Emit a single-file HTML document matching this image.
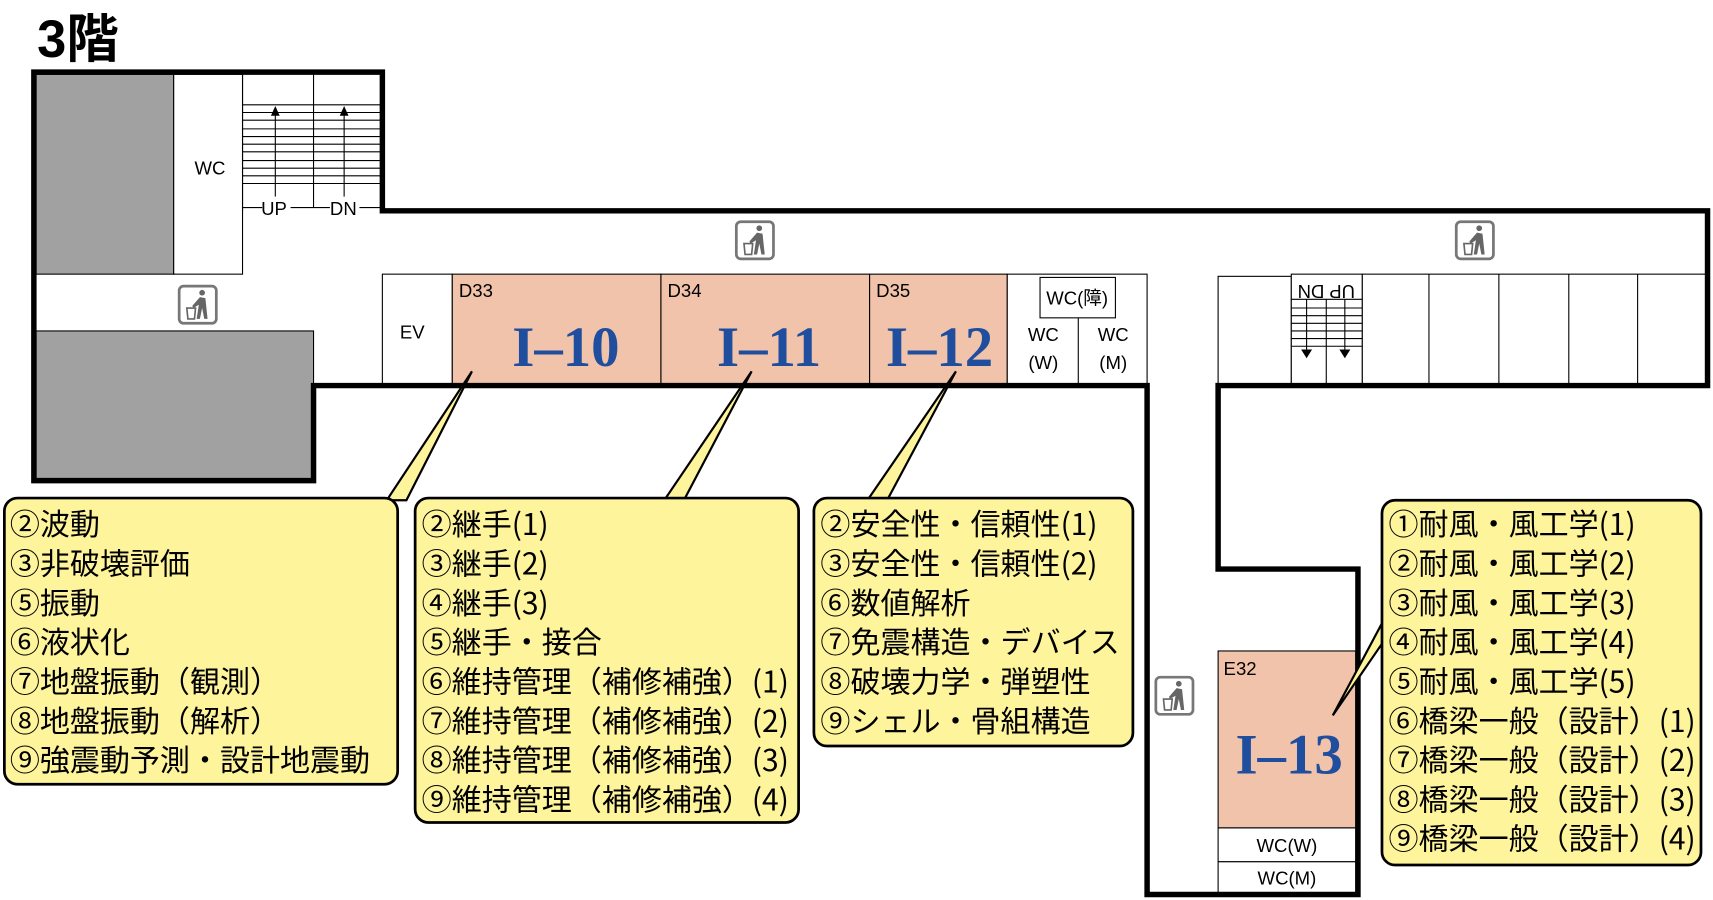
<!DOCTYPE html>
<html><head><meta charset="utf-8"><style>
html,body{margin:0;padding:0;background:#fff;}
svg{display:block}
.j{font-family:"Noto Sans CJK JP",sans-serif;font-size:27.5px;fill:#000}
.big{font-family:"Liberation Serif","Noto Serif CJK SC",serif;font-size:52px;fill:#1f4e9e;text-anchor:middle;font-weight:bold}
.s{font-family:"Liberation Sans",sans-serif;font-size:17px;fill:#000}
</style></head><body>
<svg width="1713" height="900" viewBox="0 0 1568 824" preserveAspectRatio="none" xmlns="http://www.w3.org/2000/svg">
<defs>
<g id="trash">
<rect x="0" y="0" width="34" height="34" rx="4" fill="#fff" stroke="#777" stroke-width="2.5"/>
<circle cx="21" cy="6" r="2.6" fill="#666"/>
<path d="M19 10 L24 11 L26 30 L23 30 L21 20 L19 30 L16 30 L18 17 L13 20 L12 18 Z" fill="#666"/>
<path d="M7 20 L15 20 L14 30 L8 30 Z" fill="none" stroke="#666" stroke-width="1.5"/>
</g>
</defs>
<text x="34" y="52" font-size="48" font-weight="bold" font-family="Liberation Sans,Noto Sans CJK JP,sans-serif">3階</text>
<rect x="33" y="68" width="126" height="183" fill="#a0a1a0" stroke="#000" stroke-width="1"/>
<rect x="33" y="303" width="254" height="137" fill="#a0a1a0" stroke="#000" stroke-width="1"/>
<rect x="159" y="68" width="63" height="183" fill="#fff" stroke="#000" stroke-width="1"/>
<text x="178" y="160" class="s">WC</text>
<g stroke="#000" stroke-width="1">
<line x1="222" y1="68" x2="222" y2="193"/><line x1="287" y1="68" x2="287" y2="190"/>
<line x1="222" y1="96" x2="350" y2="96"/><line x1="222" y1="103" x2="350" y2="103"/>
<line x1="222" y1="110" x2="350" y2="110"/><line x1="222" y1="118" x2="350" y2="118"/>
<line x1="222" y1="125" x2="350" y2="125"/><line x1="222" y1="132" x2="350" y2="132"/>
<line x1="222" y1="139" x2="350" y2="139"/><line x1="222" y1="147" x2="350" y2="147"/>
<line x1="222" y1="154" x2="350" y2="154"/><line x1="222" y1="161" x2="350" y2="161"/>
<line x1="222" y1="168" x2="350" y2="168"/>
<line x1="222" y1="190" x2="240" y2="190"/><line x1="266" y1="190" x2="302" y2="190"/><line x1="329" y1="190" x2="350" y2="190"/>
<line x1="252" y1="104" x2="252" y2="180"/><line x1="315" y1="104" x2="315" y2="180"/>
</g>
<polygon points="248,106 256,106 252,97" fill="#000"/><polygon points="311,106 319,106 315,97" fill="#000"/>
<text x="239" y="197" class="s" font-size="15">UP</text><text x="302" y="197" class="s" font-size="15">DN</text>
<g stroke="#000" stroke-width="1">
<rect x="350" y="251" width="64" height="102" fill="#fff"/>
<rect x="414" y="251" width="191" height="102" fill="#f2c3ab"/>
<rect x="605" y="251" width="191" height="102" fill="#f2c3ab"/>
<rect x="796" y="251" width="126" height="102" fill="#f2c3ab"/>
<rect x="922" y="251" width="128" height="102" fill="#fff"/>
<rect x="952" y="254" width="69" height="37" fill="#fff"/>
<line x1="987" y1="291" x2="987" y2="353"/>
</g>
<text x="366" y="310" class="s">EV</text>
<text x="420" y="272" class="s">D33</text><text x="611" y="272" class="s">D34</text><text x="802" y="272" class="s">D35</text>
<text x="518" y="335" class="big">I–10</text>
<text x="704" y="335" class="big">I–11</text>
<text x="860" y="335" class="big">I–12</text>
<text x="986" y="279" class="s" text-anchor="middle" font-family="Liberation Sans,Noto Sans CJK JP,sans-serif" font-size="16">WC(障)</text>
<text x="955" y="312" class="s" text-anchor="middle">WC</text><text x="955" y="338" class="s" text-anchor="middle">(W)</text>
<text x="1019" y="312" class="s" text-anchor="middle">WC</text><text x="1019" y="338" class="s" text-anchor="middle">(M)</text>
<g stroke="#000" stroke-width="1" fill="#fff">
<rect x="1115" y="253" width="67" height="100"/>
<rect x="1182" y="251" width="65" height="102"/>
<line x1="1182" y1="274" x2="1247" y2="274"/>
<line x1="1214" y1="274" x2="1214" y2="353"/>
<line x1="1182" y1="282" x2="1247" y2="282"/><line x1="1182" y1="289" x2="1247" y2="289"/>
<line x1="1182" y1="296" x2="1247" y2="296"/><line x1="1182" y1="303" x2="1247" y2="303"/>
<line x1="1182" y1="310" x2="1247" y2="310"/><line x1="1182" y1="317" x2="1247" y2="317"/>
<line x1="1196" y1="274" x2="1196" y2="320"/><line x1="1231" y1="274" x2="1231" y2="320"/>
<rect x="1247" y="251" width="316" height="102"/>
<line x1="1308" y1="251" x2="1308" y2="353"/><line x1="1372" y1="251" x2="1372" y2="353"/>
<line x1="1436" y1="251" x2="1436" y2="353"/><line x1="1499" y1="251" x2="1499" y2="353"/>
</g>
<polygon points="1191,320 1201,320 1196,328" fill="#000"/><polygon points="1226,320 1236,320 1231,328" fill="#000"/>
<text transform="translate(1214,261) rotate(180)" class="s" font-size="15" text-anchor="middle">UP DN</text>
<rect x="1115" y="596" width="126" height="162" fill="#f2c3ab" stroke="#000" stroke-width="1"/>
<rect x="1115" y="758" width="126" height="31" fill="#fff" stroke="#000" stroke-width="1"/>
<rect x="1115" y="789" width="126" height="30" fill="#fff" stroke="#000" stroke-width="1"/>
<text x="1120" y="618" class="s">E32</text>
<text x="1180" y="708" class="big">I–13</text>
<text x="1178" y="780" class="s" text-anchor="middle" font-size="16">WC(W)</text>
<text x="1178" y="810" class="s" text-anchor="middle" font-size="16">WC(M)</text>
<polygon points="31,66 350,66 350,193 1563,193 1563,353 1115,353 1115,521 1243,521 1243,819 1050,819 1050,353 287,353 287,440 31,440" fill="none" stroke="#000" stroke-width="5"/>
<use href="#trash" x="674" y="203"/><use href="#trash" x="164" y="262"/>
<use href="#trash" x="1333" y="203"/><use href="#trash" x="1058" y="620"/>
<g fill="#fef49c" stroke="#000" stroke-width="2">
<polygon points="432,340 372,458 354,458"/>
<polygon points="688,340 626,458 608,458"/>
<polygon points="875,340 812,458 794,458"/>
<polygon points="1220,655 1268,565 1268,585"/>
</g>
<g fill="#fef49c" stroke="#000" stroke-width="2.5">
<rect x="4" y="456" width="360" height="262" rx="12"/>
<rect x="380" y="456" width="351" height="297" rx="12"/>
<rect x="745" y="456" width="292" height="227" rx="12"/>
<rect x="1265" y="458" width="292" height="334" rx="12"/>
</g>
<g class="j">
<text x="9" y="490">②波動</text><text x="9" y="526">③非破壊評価</text><text x="9" y="562">⑤振動</text>
<text x="9" y="598">⑥液状化</text><text x="9" y="634">⑦地盤振動（観測）</text><text x="9" y="670">⑧地盤振動（解析）</text>
<text x="9" y="706">⑨強震動予測・設計地震動</text>
<text x="386" y="490">②継手(1)</text><text x="386" y="526">③継手(2)</text><text x="386" y="562">④継手(3)</text>
<text x="386" y="598">⑤継手・接合</text><text x="386" y="634">⑥維持管理（補修補強）(1)</text>
<text x="386" y="670">⑦維持管理（補修補強）(2)</text><text x="386" y="706">⑧維持管理（補修補強）(3)</text>
<text x="386" y="742">⑨維持管理（補修補強）(4)</text>
<text x="751" y="490">②安全性・信頼性(1)</text><text x="751" y="526">③安全性・信頼性(2)</text>
<text x="751" y="562">⑥数値解析</text><text x="751" y="598">⑦免震構造・デバイス</text>
<text x="751" y="634">⑧破壊力学・弾塑性</text><text x="751" y="670">⑨シェル・骨組構造</text>
<text x="1271" y="490">①耐風・風工学(1)</text><text x="1271" y="526">②耐風・風工学(2)</text>
<text x="1271" y="562">③耐風・風工学(3)</text><text x="1271" y="598">④耐風・風工学(4)</text>
<text x="1271" y="634">⑤耐風・風工学(5)</text><text x="1271" y="670">⑥橋梁一般（設計）(1)</text>
<text x="1271" y="706">⑦橋梁一般（設計）(2)</text><text x="1271" y="742">⑧橋梁一般（設計）(3)</text>
<text x="1271" y="778">⑨橋梁一般（設計）(4)</text>
</g>
</svg>
</body></html>
